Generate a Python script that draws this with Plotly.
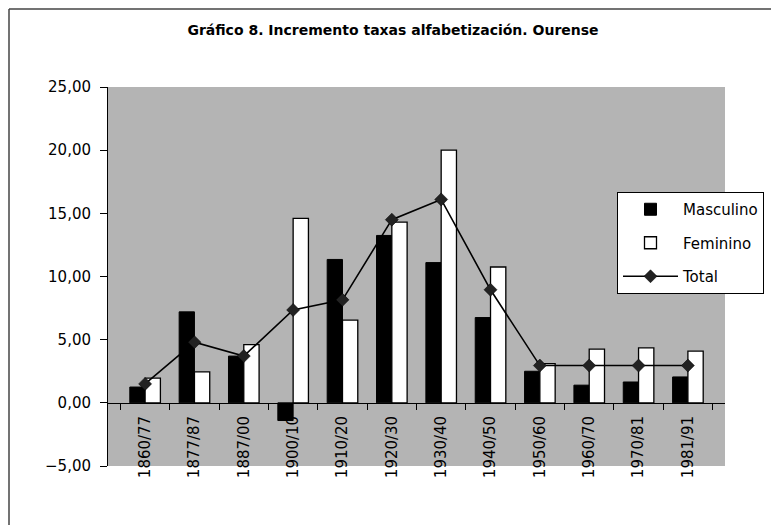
import plotly.graph_objects as go

categories = ["1860/77", "1877/87", "1887/00", "1900/10", "1910/20", "1920/30",
              "1930/40", "1940/50", "1950/60", "1960/70", "1970/81", "1981/91"]
masculino = [1.25, 7.2, 3.7, -1.4, 11.35, 13.25, 11.1, 6.75, 2.5, 1.4, 1.65, 2.05]
feminino = [1.95, 2.45, 4.6, 14.6, 6.55, 14.3, 20.0, 10.75, 3.1, 4.25, 4.35, 4.1]
total = [1.5, 4.8, 3.7, 7.35, 8.15, 14.5, 16.1, 8.95, 2.95, 2.95, 2.95, 2.95]
y_ticks = [-5, 0, 5, 10, 15, 20, 25]

FONT = "DejaVu Sans"
OFF = 8  # page body margin
WIN_W, WIN_H = 779, 525
W, H = WIN_W - OFF, WIN_H - OFF
# plot area in window pixels: x 108..725, y 87..466
PX0, PX1, PY0, PY1 = 108, 725, 87, 466
L, R, T, B = PX0 - OFF, WIN_W - PX1, PY0 - OFF, WIN_H - PY1
ymin, ymax = -5, 25
pw, ph = PX1 - PX0, PY1 - PY0

def px_x(p):
    return (p - PX0) / pw

def px_y(p):
    return (PY1 - p) / ph

fig = go.Figure()
fig.add_trace(go.Bar(x=categories, y=masculino, name="Masculino",
                     marker=dict(color="black", line=dict(color="black", width=1)),
                     legendgroup="a"))
fig.add_trace(go.Bar(x=categories, y=feminino, name="Feminino",
                     marker=dict(color="white", line=dict(color="black", width=1.3)),
                     legendgroup="b"))
fig.add_trace(go.Scatter(x=categories, y=total, name="Total", mode="lines+markers",
                         line=dict(color="black", width=1.6),
                         marker=dict(symbol="diamond", size=10, color="#222222",
                                     line=dict(color="black", width=0.5)),
                         legendgroup="c"))

fig.update_layout(
    width=W, height=H,
    margin=dict(l=L, r=R, t=T, b=B),
    paper_bgcolor="white",
    plot_bgcolor="#b4b4b4",
    separators=",.",
    barmode="group",
    bargap=0.38,
    bargroupgap=0,
    font=dict(family=FONT, color="black"),
    title=dict(text="<b>Gráfico 8. Incremento taxas alfabetización. Ourense</b>",
               x=(393 - OFF) / W, xref="container", xanchor="center",
               y=1 - (30 - OFF) / H, yref="container", yanchor="middle",
               font=dict(family=FONT, size=14, color="black")),
    legend=dict(x=px_x(617), y=px_y(192), xanchor="left", yanchor="top",
                bgcolor="white", bordercolor="black", borderwidth=1,
                font=dict(family=FONT, size=15, color="black"),
                tracegroupgap=11, traceorder="grouped", itemwidth=55),
    xaxis=dict(anchor="free", position=(0 - ymin) / (ymax - ymin),
               showline=True, linecolor="black", linewidth=1,
               ticks="outside", ticklen=6, tickcolor="black", tickson="boundaries",
               tickangle=-90, tickfont=dict(family=FONT, size=15, color="black"),
               showgrid=False, ticklabelstandoff=6),
    yaxis=dict(range=[ymin, ymax], tickvals=y_ticks, tickformat=".2f",
               showline=True, linecolor="black", linewidth=1,
               ticks="outside", ticklen=7, tickcolor="black",
               tickfont=dict(family=FONT, size=15, color="black"),
               showgrid=False, zeroline=False, ticklabelstandoff=6),
    shapes=[
        dict(type="line", xref="paper", yref="paper",
             x0=px_x(9), x1=px_x(9), y0=px_y(9), y1=px_y(530),
             line=dict(color="#444444", width=1.5)),
        dict(type="line", xref="paper", yref="paper",
             x0=px_x(9), x1=px_x(785), y0=px_y(9), y1=px_y(9),
             line=dict(color="#444444", width=1.5)),
    ],
)

fig.write_html("out.html")
